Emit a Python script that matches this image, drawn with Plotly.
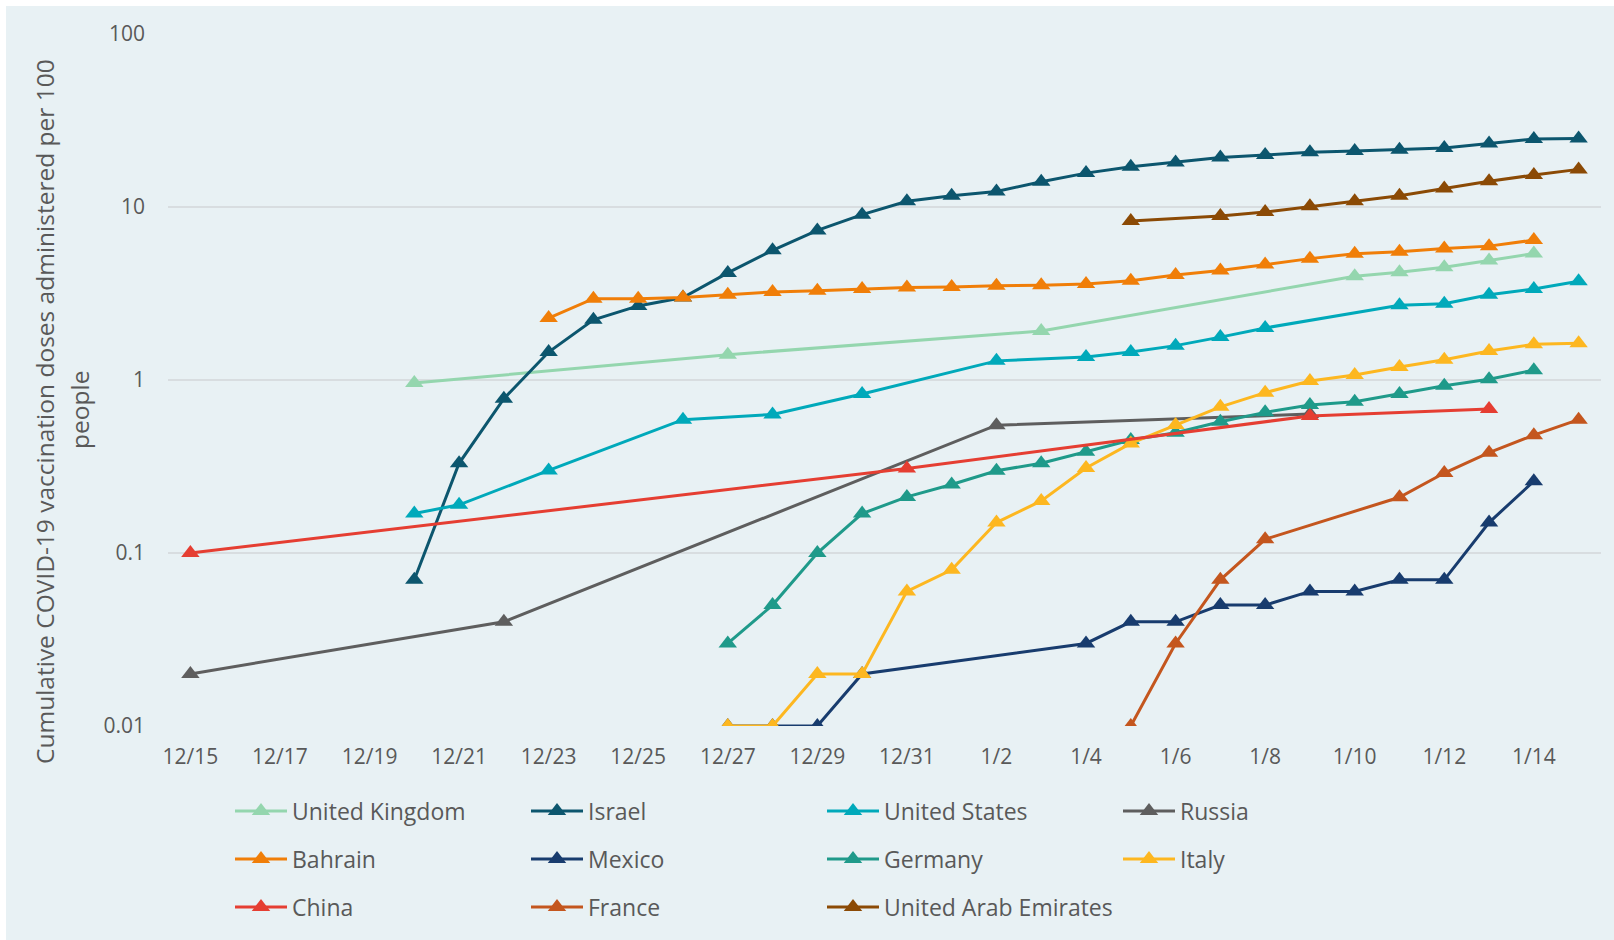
import plotly.graph_objects as go

# ---------------- data (dates as M/D, values in doses per 100 people) ----------------
uk_dates = ["12/20", "12/27", "1/3", "1/10", "1/11", "1/12", "1/13", "1/14"]
uk_vals = [0.96, 1.40, 1.92, 3.98, 4.20, 4.49, 4.90, 5.38]

israel_dates = ["12/20", "12/21", "12/22", "12/23", "12/24", "12/25", "12/26", "12/27", "12/28",
                "12/29", "12/30", "12/31", "1/1", "1/2", "1/3", "1/4", "1/5", "1/6", "1/7", "1/8",
                "1/9", "1/10", "1/11", "1/12", "1/13", "1/14", "1/15"]
israel_vals = [0.07, 0.33, 0.78, 1.45, 2.23, 2.68, 3.0, 4.16, 5.62, 7.32, 9.03, 10.8, 11.6, 12.3,
               14.0, 15.7, 17.1, 18.1, 19.3, 20.0, 20.7, 21.1, 21.4, 21.9, 23.3, 24.7, 24.9]

us_dates = ["12/20", "12/21", "12/23", "12/26", "12/28", "12/30", "1/2", "1/4", "1/5", "1/6",
            "1/7", "1/8", "1/11", "1/12", "1/13", "1/14", "1/15"]
us_vals = [0.169, 0.19, 0.30, 0.59, 0.632, 0.83, 1.29, 1.36, 1.45, 1.58, 1.77, 2.0, 2.70, 2.76,
           3.11, 3.36, 3.72]

russia_dates = ["12/15", "12/22", "1/2", "1/9"]
russia_vals = [0.02, 0.04, 0.548, 0.635]

bahrain_dates = ["12/23", "12/24", "12/25", "12/26", "12/27", "12/28", "12/29", "12/30", "12/31",
                 "1/1", "1/2", "1/3", "1/4", "1/5", "1/6", "1/7", "1/8", "1/9", "1/10", "1/11",
                 "1/12", "1/13", "1/14"]
bahrain_vals = [2.28, 2.95, 2.95, 3.0, 3.11, 3.23, 3.28, 3.36, 3.43, 3.45, 3.51, 3.53, 3.59, 3.75,
                4.05, 4.29, 4.65, 5.03, 5.36, 5.51, 5.76, 5.94, 6.44]

mexico_dates = ["12/27", "12/28", "12/29", "12/30", "1/4", "1/5", "1/6", "1/7", "1/8", "1/9",
                "1/10", "1/11", "1/12", "1/13", "1/14"]
mexico_vals = [0.01, 0.01, 0.01, 0.02, 0.03, 0.04, 0.04, 0.05, 0.05, 0.06, 0.06, 0.07, 0.07,
               0.15, 0.26]

germany_dates = ["12/27", "12/28", "12/29", "12/30", "12/31", "1/1", "1/2", "1/3", "1/4", "1/5",
                 "1/6", "1/7", "1/8", "1/9", "1/10", "1/11", "1/12", "1/13", "1/14"]
germany_vals = [0.03, 0.05, 0.10, 0.169, 0.211, 0.249, 0.299, 0.33, 0.385, 0.45, 0.496, 0.574,
                0.65, 0.717, 0.749, 0.83, 0.927, 1.01, 1.14]

italy_dates = ["12/27", "12/28", "12/29", "12/30", "12/31", "1/1", "1/2", "1/3", "1/4", "1/5",
               "1/6", "1/7", "1/8", "1/9", "1/10", "1/11", "1/12", "1/13", "1/14", "1/15"]
italy_vals = [0.01, 0.01, 0.02, 0.02, 0.06, 0.08, 0.15, 0.20, 0.31, 0.43, 0.549, 0.70, 0.845,
              0.987, 1.07, 1.19, 1.31, 1.47, 1.61, 1.63]

china_dates = ["12/15", "12/31", "1/9", "1/13"]
china_vals = [0.10, 0.308, 0.62, 0.68]

france_dates = ["1/5", "1/6", "1/7", "1/8", "1/11", "1/12", "1/13", "1/14", "1/15"]
france_vals = [0.01, 0.03, 0.07, 0.12, 0.21, 0.29, 0.38, 0.48, 0.59]

uae_dates = ["1/5", "1/7", "1/8", "1/9", "1/10", "1/11", "1/12", "1/13", "1/14", "1/15"]
uae_vals = [8.30, 8.87, 9.36, 10.1, 10.8, 11.6, 12.8, 14.1, 15.3, 16.5]

y_tick_vals = [0.01, 0.1, 1, 10, 100]
y_tick_text = ["0.01", "0.1", "1", "10", "100"]

y_title_line1 = "Cumulative COVID-19 vaccination doses administered per 100"
y_title_line2 = "people"


def to_iso(md):
    m, d = md.split("/")
    year = 2020 if int(m) == 12 else 2021
    return f"{year}-{int(m):02d}-{int(d):02d}"


series = [
    ("United Kingdom", uk_dates, uk_vals, "#94D6AE", "legend"),
    ("Israel", israel_dates, israel_vals, "#0C566E", "legend"),
    ("United States", us_dates, us_vals, "#00A9BA", "legend"),
    ("Russia", russia_dates, russia_vals, "#5E5E5E", "legend"),
    ("Bahrain", bahrain_dates, bahrain_vals, "#F07E08", "legend2"),
    ("Mexico", mexico_dates, mexico_vals, "#183C6E", "legend2"),
    ("Germany", germany_dates, germany_vals, "#1F9A8A", "legend2"),
    ("Italy", italy_dates, italy_vals, "#FDB720", "legend2"),
    ("China", china_dates, china_vals, "#E53E32", "legend3"),
    ("France", france_dates, france_vals, "#C4561E", "legend3"),
    ("United Arab Emirates", uae_dates, uae_vals, "#8B4A05", "legend3"),
]

W, H = 1614, 940
L, R, T, B = 168, 13, 34, 214
PW, PH = W - L - R, H - T - B


def px_x(px):
    return (px - L) / PW


def px_y(py):
    return (H - B - py) / PH


fig = go.Figure()
for name, dates, vals, color, leg in series:
    fig.add_trace(go.Scatter(
        x=[to_iso(d) for d in dates], y=vals, name=name, mode="lines+markers",
        line=dict(color=color, width=3),
        marker=dict(symbol="triangle-up", size=16, color=color),
        legend=leg,
    ))

GRAY = "#595959"
FONT = "Open Sans"
leg_common = dict(orientation="h", xanchor="left", yanchor="middle",
                  x=px_x(230), font=dict(family=FONT, size=23, color=GRAY),
                  bgcolor="rgba(0,0,0,0)", itemwidth=52, entrywidth=229,
                  entrywidthmode="pixels")

fig.update_layout(
    width=W, height=H,
    margin=dict(l=L, r=R, t=T, b=B, pad=0),
    paper_bgcolor="white",
    plot_bgcolor="rgba(0,0,0,0)",
    showlegend=True,
    legend=dict(y=px_y(811), **leg_common),
    legend2=dict(y=px_y(859), **leg_common),
    legend3=dict(y=px_y(907), **leg_common),
    xaxis=dict(
        type="date",
        range=["2020-12-14 12:00", "2021-01-15 12:00"],
        tick0="2020-12-15", dtick=2 * 86400000, tickformat="%-m/%-d",
        showgrid=False, zeroline=False, showline=False, ticks="",
        tickfont=dict(family=FONT, size=21, color=GRAY),
        ticklabelstandoff=16,
    ),
    yaxis=dict(
        type="log", range=[-2, 2],
        tickvals=y_tick_vals, ticktext=y_tick_text,
        showgrid=True, gridcolor="#D8DDE0", gridwidth=2,
        zeroline=False, showline=False, ticks="",
        tickfont=dict(family=FONT, size=21, color=GRAY),
        ticklabelstandoff=22,
    ),
    shapes=[dict(type="rect", xref="paper", yref="paper", layer="below",
                 x0=px_x(6), x1=px_x(W + 5), y0=px_y(H + 5), y1=px_y(6),
                 line=dict(width=0), fillcolor="#E8F1F4")],
    annotations=[
        dict(text=y_title_line1, textangle=-90, xref="paper", yref="paper",
             x=px_x(44), y=px_y(412), xanchor="center", yanchor="middle",
             showarrow=False, font=dict(family=FONT, size=24.5, color=GRAY)),
        dict(text=y_title_line2, textangle=-90, xref="paper", yref="paper",
             x=px_x(79), y=px_y(410), xanchor="center", yanchor="middle",
             showarrow=False, font=dict(family=FONT, size=24.5, color=GRAY)),
    ],
)

fig.write_html("out.html")
